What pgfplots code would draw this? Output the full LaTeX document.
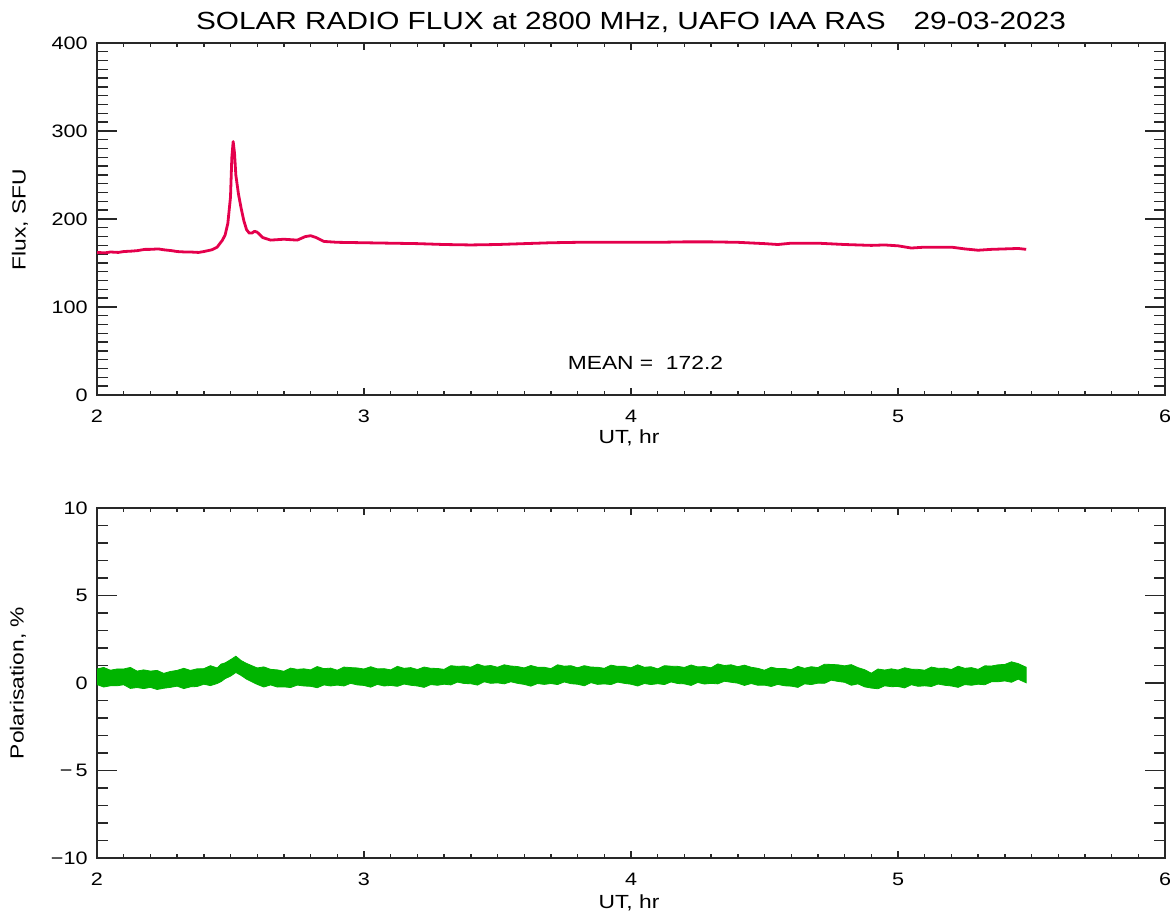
\documentclass[border=0pt]{standalone}
\usepackage{fontspec}
\setmainfont{Liberation Sans}[FakeStretch=1.2]
\usepackage{pgfplots}
\pgfplotsset{compat=1.18}

\definecolor{fluxred}{RGB}{228,0,76}
\definecolor{polgreen}{RGB}{0,180,0}
\definecolor{axisgray}{RGB}{40,40,40}

\pgfplotsset{
  idlaxis/.style={
    scale only axis,
    width=534pt,
    anchor=south west,
    xmin=2, xmax=6,
    xtick={2,3,4,5,6},
    minor x tick num=9,
    tick align=inside,
    axis line style={axisgray, line width=0.8pt},
    tick style={axisgray, line width=0.7pt},
    xtick style={/pgfplots/major tick length=3.5pt, /pgfplots/minor tick length=2pt},
    ytick style={/pgfplots/major tick length=10pt, /pgfplots/minor tick length=5.5pt},
    /pgf/number format/assume math mode=true,
    ticklabel style={font=\fontsize{9}{10}\selectfont, text=black},
    yticklabel style={anchor=east, inner sep=0pt, xshift=-4.5pt},
    xticklabel style={anchor=center, inner sep=0pt, yshift=-10.5pt},
  },
}

\begin{document}
\begin{tikzpicture}
\path[use as bounding box] (0,0) rectangle (585pt,457pt);

% ---- flux ----
\begin{axis}[idlaxis,
  at={(48.5pt,259.5pt)}, height=176pt,
  ymin=0, ymax=400,
  ytick={0,100,200,300,400},
  minor y tick num=9,
]
\addplot[fluxred, line width=1.4pt, line join=round] coordinates {
 (2.00,162) (2.03,161.5) (2.05,162.5) (2.08,162) (2.10,163) (2.13,163.5)
 (2.15,164) (2.18,165.5) (2.20,165.5) (2.23,166) (2.25,165) (2.28,164)
 (2.30,163) (2.33,162.5) (2.35,162.5) (2.38,162) (2.40,163) (2.43,165)
 (2.45,168) (2.47,176) (2.48,182) (2.49,195) (2.50,225) (2.505,270)
 (2.51,288) (2.515,275) (2.52,250) (2.53,228) (2.54,212) (2.55,198)
 (2.56,188) (2.57,184) (2.58,184) (2.59,186) (2.60,185) (2.62,179)
 (2.65,176) (2.70,177) (2.75,176) (2.78,180) (2.80,181) (2.82,179)
 (2.85,174.5) (2.90,173.5) (3.00,173) (3.10,172.5) (3.20,172) (3.30,171)
 (3.40,170.5) (3.50,171) (3.60,172) (3.70,173) (3.80,173.5) (3.90,173.5)
 (4.00,173.5) (4.10,173.5) (4.20,174) (4.30,174) (4.40,173.5) (4.50,172)
 (4.55,171) (4.60,172.5) (4.70,172.5) (4.80,171) (4.90,170) (4.95,170.5)
 (5.00,169.5) (5.05,167) (5.10,168) (5.20,168) (5.25,166) (5.30,164.5)
 (5.35,165.5) (5.40,166) (5.45,166.5) (5.48,165.5)
};
\node[font=\fontsize{9.5}{11}\selectfont] at (axis cs:4.054,36.4) {MEAN =\ \ 172.2};
\end{axis}

% ---- polarisation ----
\begin{axis}[idlaxis,
  at={(48.5pt,28pt)}, height=175pt,
  ymin=-10, ymax=10,
  ytick={-10,-5,0,5,10},
  yticklabels={−10,−\,5,0,5,10},
  minor y tick num=4,
]
% noisy band: upper edge left to right, then lower edge right to left
\addplot[polgreen, fill=polgreen, line width=0.4pt, line join=miter] coordinates {
 (2.00,0.80) (2.025,0.89) (2.05,0.73) (2.075,0.80) (2.10,0.80) (2.125,0.89)
 (2.15,0.68) (2.175,0.75) (2.20,0.68) (2.225,0.72) (2.25,0.55) (2.275,0.66)
 (2.30,0.72) (2.325,0.84) (2.35,0.72) (2.375,0.81) (2.40,0.82) (2.425,0.99)
 (2.45,0.86) (2.465,1.08) (2.48,1.15) (2.50,1.33) (2.52,1.53) (2.54,1.28)
 (2.56,1.12) (2.60,0.86) (2.625,0.92) (2.65,0.78) (2.675,0.75) (2.70,0.67)
 (2.725,0.85) (2.75,0.78) (2.775,0.81) (2.80,0.75) (2.825,0.94) (2.85,0.82)
 (2.875,0.85) (2.90,0.73) (2.925,0.91) (2.95,0.88) (2.975,0.86) (3.00,0.80)
 (3.025,0.93) (3.05,0.81) (3.075,0.82) (3.10,0.75) (3.125,0.95) (3.15,0.84)
 (3.175,0.88) (3.20,0.77) (3.225,0.91) (3.25,0.84) (3.275,0.83) (3.30,0.78)
 (3.325,0.99) (3.35,0.95) (3.375,0.97) (3.40,0.90) (3.425,1.08) (3.45,0.96)
 (3.475,1.00) (3.50,0.90) (3.525,1.04) (3.55,0.97) (3.575,0.94) (3.60,0.86)
 (3.625,1.00) (3.65,0.90) (3.675,0.90) (3.70,0.82) (3.725,1.04) (3.75,0.96)
 (3.775,0.99) (3.80,0.87) (3.825,0.99) (3.85,0.91) (3.875,0.90) (3.90,0.84)
 (3.925,1.02) (3.95,0.95) (3.975,0.95) (4.00,0.87) (4.025,1.04) (4.05,0.90)
 (4.075,0.93) (4.10,0.81) (4.125,0.99) (4.15,0.96) (4.175,0.95) (4.20,0.89)
 (4.225,1.03) (4.25,0.92) (4.275,0.94) (4.30,0.87) (4.325,1.09) (4.35,1.00)
 (4.375,1.04) (4.40,0.93) (4.425,1.02) (4.45,0.90) (4.475,0.84) (4.50,0.73)
 (4.525,0.90) (4.55,0.82) (4.575,0.83) (4.60,0.76) (4.625,0.95) (4.65,0.84)
 (4.675,0.93) (4.70,0.88) (4.725,1.07) (4.75,1.06) (4.775,1.04) (4.80,0.98)
 (4.825,1.05) (4.85,0.88) (4.875,0.76) (4.90,0.56) (4.925,0.80) (4.95,0.74)
 (4.975,0.81) (5.00,0.74) (5.025,0.87) (5.05,0.79) (5.075,0.78) (5.10,0.73)
 (5.125,0.91) (5.15,0.84) (5.175,0.85) (5.20,0.77) (5.225,0.96) (5.25,0.84)
 (5.275,0.88) (5.30,0.78) (5.325,0.98) (5.35,0.97) (5.375,1.04) (5.40,1.06)
 (5.425,1.21) (5.45,1.11) (5.48,0.90)
 (5.48,0.01) (5.45,0.22) (5.425,0.04) (5.40,0.12) (5.375,0.07) (5.35,0.07)
 (5.325,-0.10) (5.30,-0.07) (5.275,-0.13) (5.25,-0.09) (5.225,-0.25) (5.20,-0.17)
 (5.175,-0.13) (5.15,-0.06) (5.125,-0.20) (5.10,-0.16) (5.075,-0.19) (5.05,-0.10)
 (5.025,-0.28) (5.00,-0.20) (4.975,-0.21) (4.95,-0.16) (4.925,-0.33) (4.90,-0.29)
 (4.875,-0.22) (4.85,-0.05) (4.825,-0.13) (4.80,0.04) (4.775,0.09) (4.75,0.16)
 (4.725,-0.02) (4.70,-0.01) (4.675,-0.09) (4.65,-0.05) (4.625,-0.25) (4.60,-0.18)
 (4.575,-0.16) (4.55,-0.08) (4.525,-0.20) (4.50,-0.12) (4.475,-0.13) (4.45,-0.03)
 (4.425,-0.14) (4.40,-0.01) (4.375,0.04) (4.35,0.10) (4.325,-0.05) (4.30,-0.02)
 (4.275,-0.06) (4.25,0.03) (4.225,-0.14) (4.20,-0.05) (4.175,-0.03) (4.15,0.06)
 (4.125,-0.09) (4.10,-0.04) (4.075,-0.09) (4.05,-0.03) (4.025,-0.17) (4.00,-0.07)
 (3.975,-0.02) (3.95,0.05) (3.925,-0.09) (3.90,-0.05) (3.875,-0.08) (3.85,0.02)
 (3.825,-0.16) (3.80,-0.07) (3.775,-0.04) (3.75,0.06) (3.725,-0.09) (3.70,-0.03)
 (3.675,-0.08) (3.65,-0.03) (3.625,-0.18) (3.60,-0.08) (3.575,-0.02) (3.55,0.07)
 (3.525,-0.05) (3.50,0.01) (3.475,-0.02) (3.45,0.07) (3.425,-0.12) (3.40,-0.04)
 (3.375,-0.03) (3.35,0.05) (3.325,-0.11) (3.30,-0.07) (3.275,-0.13) (3.25,-0.09)
 (3.225,-0.25) (3.20,-0.17) (3.175,-0.13) (3.15,-0.06) (3.125,-0.19) (3.10,-0.14)
 (3.075,-0.17) (3.05,-0.08) (3.025,-0.24) (3.00,-0.14) (2.975,-0.11) (2.95,-0.02)
 (2.925,-0.17) (2.90,-0.12) (2.875,-0.17) (2.85,-0.11) (2.825,-0.27) (2.80,-0.19)
 (2.775,-0.17) (2.75,-0.12) (2.725,-0.26) (2.70,-0.22) (2.675,-0.23) (2.65,-0.11)
 (2.625,-0.23) (2.60,-0.08) (2.56,0.22) (2.54,0.43) (2.52,0.60) (2.50,0.39)
 (2.48,0.25) (2.465,0.08) (2.45,-0.03) (2.425,-0.15) (2.40,-0.07) (2.375,-0.20)
 (2.35,-0.22) (2.325,-0.32) (2.30,-0.18) (2.275,-0.25) (2.25,-0.30) (2.225,-0.37)
 (2.20,-0.25) (2.175,-0.32) (2.15,-0.26) (2.125,-0.31) (2.10,-0.10) (2.075,-0.16)
 (2.05,-0.16) (2.025,-0.23) (2.00,-0.09)
} -- cycle;
\end{axis}

% ---- texts ----
\node[font=\fontsize{12.4}{14}\selectfont] at (315.5pt,446pt)
  {SOLAR RADIO FLUX at 2800 MHz, UAFO IAA RAS\hspace{14pt}29-03-2023};
\node[font=\fontsize{9.5}{11}\selectfont] at (314.5pt,238pt) {UT, hr};
\node[font=\fontsize{9.5}{11}\selectfont] at (314.5pt,5.5pt) {UT, hr};
\node[font=\fontsize{9.5}{11}\selectfont, rotate=90] at (10pt,347pt) {Flux, SFU};
\node[font=\fontsize{9.5}{11}\selectfont, rotate=90] at (9pt,115.5pt) {Polarisation, \%};
\end{tikzpicture}
\end{document}
